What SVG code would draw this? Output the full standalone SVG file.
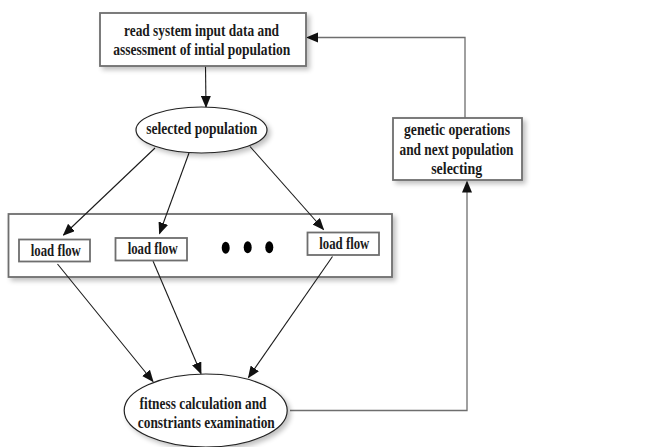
<svg xmlns="http://www.w3.org/2000/svg" width="656" height="447" viewBox="0 0 656 447">
<style>
.box{fill:#fff;stroke:#6e6e6e;stroke-width:1.8}
.ell{fill:#fff;stroke:#222;stroke-width:1.2}
.t{font-family:"Liberation Serif",serif;font-weight:bold;font-size:16px;fill:#1a1a1a;text-anchor:middle}
.c{fill:none;stroke:#1a1a1a;stroke-width:1.1}
.g{fill:none;stroke:#6e6e6e;stroke-width:1.3}
</style>
<defs>
<marker id="ah" markerWidth="12" markerHeight="10" refX="11" refY="5" orient="auto" markerUnits="userSpaceOnUse">
<path d="M0,0 L12,5 L0,10 Z" fill="#111"/>
</marker>
<filter id="sh" x="-20%" y="-20%" width="150%" height="150%">
<feGaussianBlur in="SourceAlpha" stdDeviation="2.5"/>
<feOffset dx="3" dy="3" result="b"/>
<feComponentTransfer><feFuncA type="linear" slope="0.25"/></feComponentTransfer>
<feMerge><feMergeNode/><feMergeNode in="SourceGraphic"/></feMerge>
</filter>
</defs>
<rect width="656" height="447" fill="#fff"/>

<g id="container">
<rect class="box" x="8.5" y="214" width="383.5" height="63" filter="url(#sh)"/>
</g>

<g id="connectors">
<line class="c" x1="205.5" y1="66" x2="206" y2="107" marker-end="url(#ah)"/>
<polyline class="g" points="465,118 465,37.5 317,37.5"/>
<path d="M306,37.5 L318,32.5 L318,42.5 Z" fill="#111"/>
<line class="c" x1="155" y1="148" x2="63.5" y2="235" marker-end="url(#ah)"/>
<line class="c" x1="189" y1="153" x2="159.5" y2="233.5" marker-end="url(#ah)"/>
<line class="c" x1="250" y1="146.5" x2="323.5" y2="229.5" marker-end="url(#ah)"/>
<line class="c" x1="57.5" y1="264" x2="153" y2="381.5" marker-end="url(#ah)"/>
<line class="c" x1="153" y1="261" x2="201" y2="373.5" marker-end="url(#ah)"/>
<line class="c" x1="332.5" y1="256.5" x2="248.5" y2="377.5" marker-end="url(#ah)"/>
<polyline class="g" points="290,410.5 467,410.5 467,192"/>
<path d="M467,180.5 L462,192.5 L472,192.5 Z" fill="#111"/>
</g>

<g id="n-read">
<rect class="box" x="100" y="13" width="206" height="53" filter="url(#sh)"/>
<text class="t" x="201.5" y="35.5" textLength="155" lengthAdjust="spacingAndGlyphs">read system input data and</text>
<text class="t" x="201.7" y="54.5" textLength="177" lengthAdjust="spacingAndGlyphs">assessment of intial population</text>
</g>

<g id="n-selected">
<ellipse class="ell" cx="201.5" cy="130" rx="65.5" ry="23" filter="url(#sh)"/>
<text class="t" x="201.7" y="134" textLength="111" lengthAdjust="spacingAndGlyphs">selected population</text>
</g>

<g id="n-genetic">
<rect class="box" x="393" y="118" width="129" height="62" filter="url(#sh)"/>
<text class="t" x="457" y="134.5" textLength="106" lengthAdjust="spacingAndGlyphs">genetic operations</text>
<text class="t" x="456.5" y="154.5" textLength="114" lengthAdjust="spacingAndGlyphs">and next population</text>
<text class="t" x="456.7" y="173.5" textLength="51" lengthAdjust="spacingAndGlyphs">selecting</text>
</g>

<g id="n-lf1">
<rect class="box" x="19" y="239.5" width="71" height="22"/>
<text class="t" x="55.8" y="255.5" textLength="50" lengthAdjust="spacingAndGlyphs">load flow</text>
</g>

<g id="n-lf2">
<rect class="box" x="115.5" y="238" width="71.5" height="22.5"/>
<text class="t" x="152.7" y="254" textLength="50" lengthAdjust="spacingAndGlyphs">load flow</text>
</g>

<g id="n-dots">
<ellipse cx="225.7" cy="247.7" rx="4" ry="6" fill="#000"/>
<ellipse cx="247.7" cy="247.2" rx="4" ry="6" fill="#000"/>
<ellipse cx="269.3" cy="247.2" rx="4" ry="6" fill="#000"/>
</g>

<g id="n-lf3">
<rect class="box" x="307.5" y="232.5" width="71.5" height="22.5"/>
<text class="t" x="344.3" y="248.5" textLength="50" lengthAdjust="spacingAndGlyphs">load flow</text>
</g>

<g id="n-fitness">
<ellipse class="ell" cx="205.7" cy="410.5" rx="81.5" ry="36.5" filter="url(#sh)"/>
<text class="t" x="203" y="408.5" textLength="127" lengthAdjust="spacingAndGlyphs">fitness calculation and</text>
<text class="t" x="206.3" y="427.5" textLength="137" lengthAdjust="spacingAndGlyphs">constriants examination</text>
</g>
</svg>
